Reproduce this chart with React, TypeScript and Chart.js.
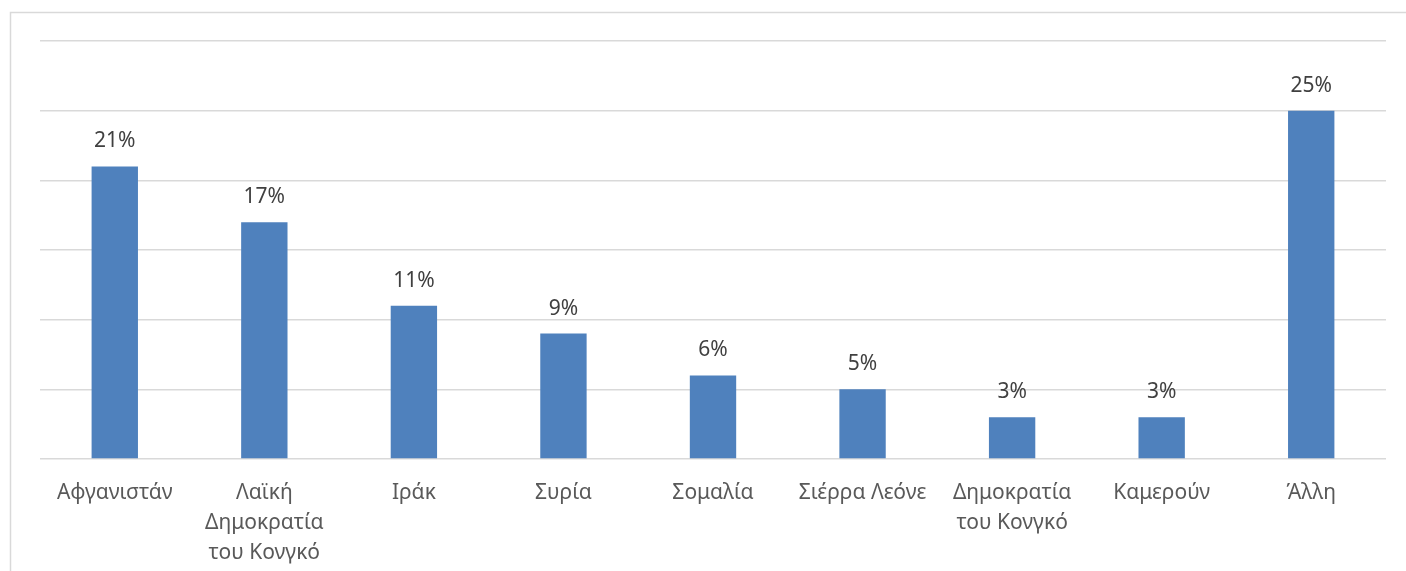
import React, { useEffect, useRef } from "react";
import { Chart, registerables } from "chart.js";

Chart.register(...registerables);

const categories: (string | string[])[] = [
  "Αφγανιστάν",
  ["Λαϊκή", "Δημοκρατία", "του Κονγκό"],
  "Ιράκ",
  "Συρία",
  "Σομαλία",
  "Σιέρρα Λεόνε",
  ["Δημοκρατία", "του Κονγκό"],
  "Καμερούν",
  "Άλλη",
];
const shares = [21, 17, 11, 9, 6, 5, 3, 3, 25];
const yTicks = [0, 5, 10, 15, 20, 25, 30];

const FONT = "'Noto Sans', 'DejaVu Sans', sans-serif";

const framePlugin = {
  id: "frame",
  beforeDraw(chart: any) {
    const ctx = chart.ctx;
    ctx.save();
    ctx.fillStyle = "#ffffff";
    ctx.fillRect(0, 0, chart.width, chart.height);
    ctx.strokeStyle = "#d9d9d9";
    ctx.lineWidth = 1.5;
    ctx.beginPath();
    ctx.moveTo(10.5, chart.height);
    ctx.lineTo(10.5, 12.5);
    ctx.lineTo(chart.width, 12.5);
    ctx.stroke();
    ctx.restore();
  },
};

const labelPlugin = {
  id: "valueLabels",
  afterDatasetsDraw(chart: any) {
    const ctx = chart.ctx;
    const meta = chart.getDatasetMeta(0);
    ctx.save();
    ctx.fillStyle = "#404040";
    ctx.font = `21px ${FONT}`;
    ctx.textAlign = "center";
    ctx.textBaseline = "middle";
    meta.data.forEach((bar: any, i: number) => {
      ctx.fillText(`${shares[i]}%`, bar.x, bar.y - 25);
    });
    ctx.restore();
  },
};

export default function App() {
  const ref = useRef<HTMLCanvasElement>(null);
  useEffect(() => {
    if (!ref.current) return;
    const chart = new Chart(ref.current, {
      type: "bar",
      data: {
        labels: categories,
        datasets: [
          {
            data: shares,
            backgroundColor: "#4f81bd",
            borderWidth: 0,
            categoryPercentage: 1,
            barPercentage: 0.31,
          },
        ],
      },
      options: {
        responsive: false,
        animation: false,
        layout: { padding: { left: 40, top: 41, right: 20, bottom: 0 } },
        plugins: { legend: { display: false }, tooltip: { enabled: false } },
        scales: {
          x: {
            grid: { display: false },
            border: { display: false },
            ticks: {
              color: "#595959",
              font: { family: FONT, size: 21, lineHeight: 1.43 },
              padding: 11,
              maxRotation: 0,
              autoSkip: false,
            },
            afterFit(scale: any) {
              scale.height = 112;
            },
          },
          y: {
            min: 0,
            max: 30,
            afterBuildTicks(scale: any) {
              scale.ticks = yTicks.map((v) => ({ value: v }));
            },
            ticks: { display: false },
            grid: { color: "#d9d9d9", lineWidth: 1.5, drawTicks: false },
            border: { display: false },
            afterFit(scale: any) {
              scale.width = 0;
            },
          },
        },
      },
      plugins: [framePlugin, labelPlugin],
    });
    return () => chart.destroy();
  }, []);
  return (
    <div style={{ position: "absolute", left: 0, top: 0, width: 1406, height: 571 }}>
      <canvas ref={ref} width={1406} height={571} />
    </div>
  );
}
